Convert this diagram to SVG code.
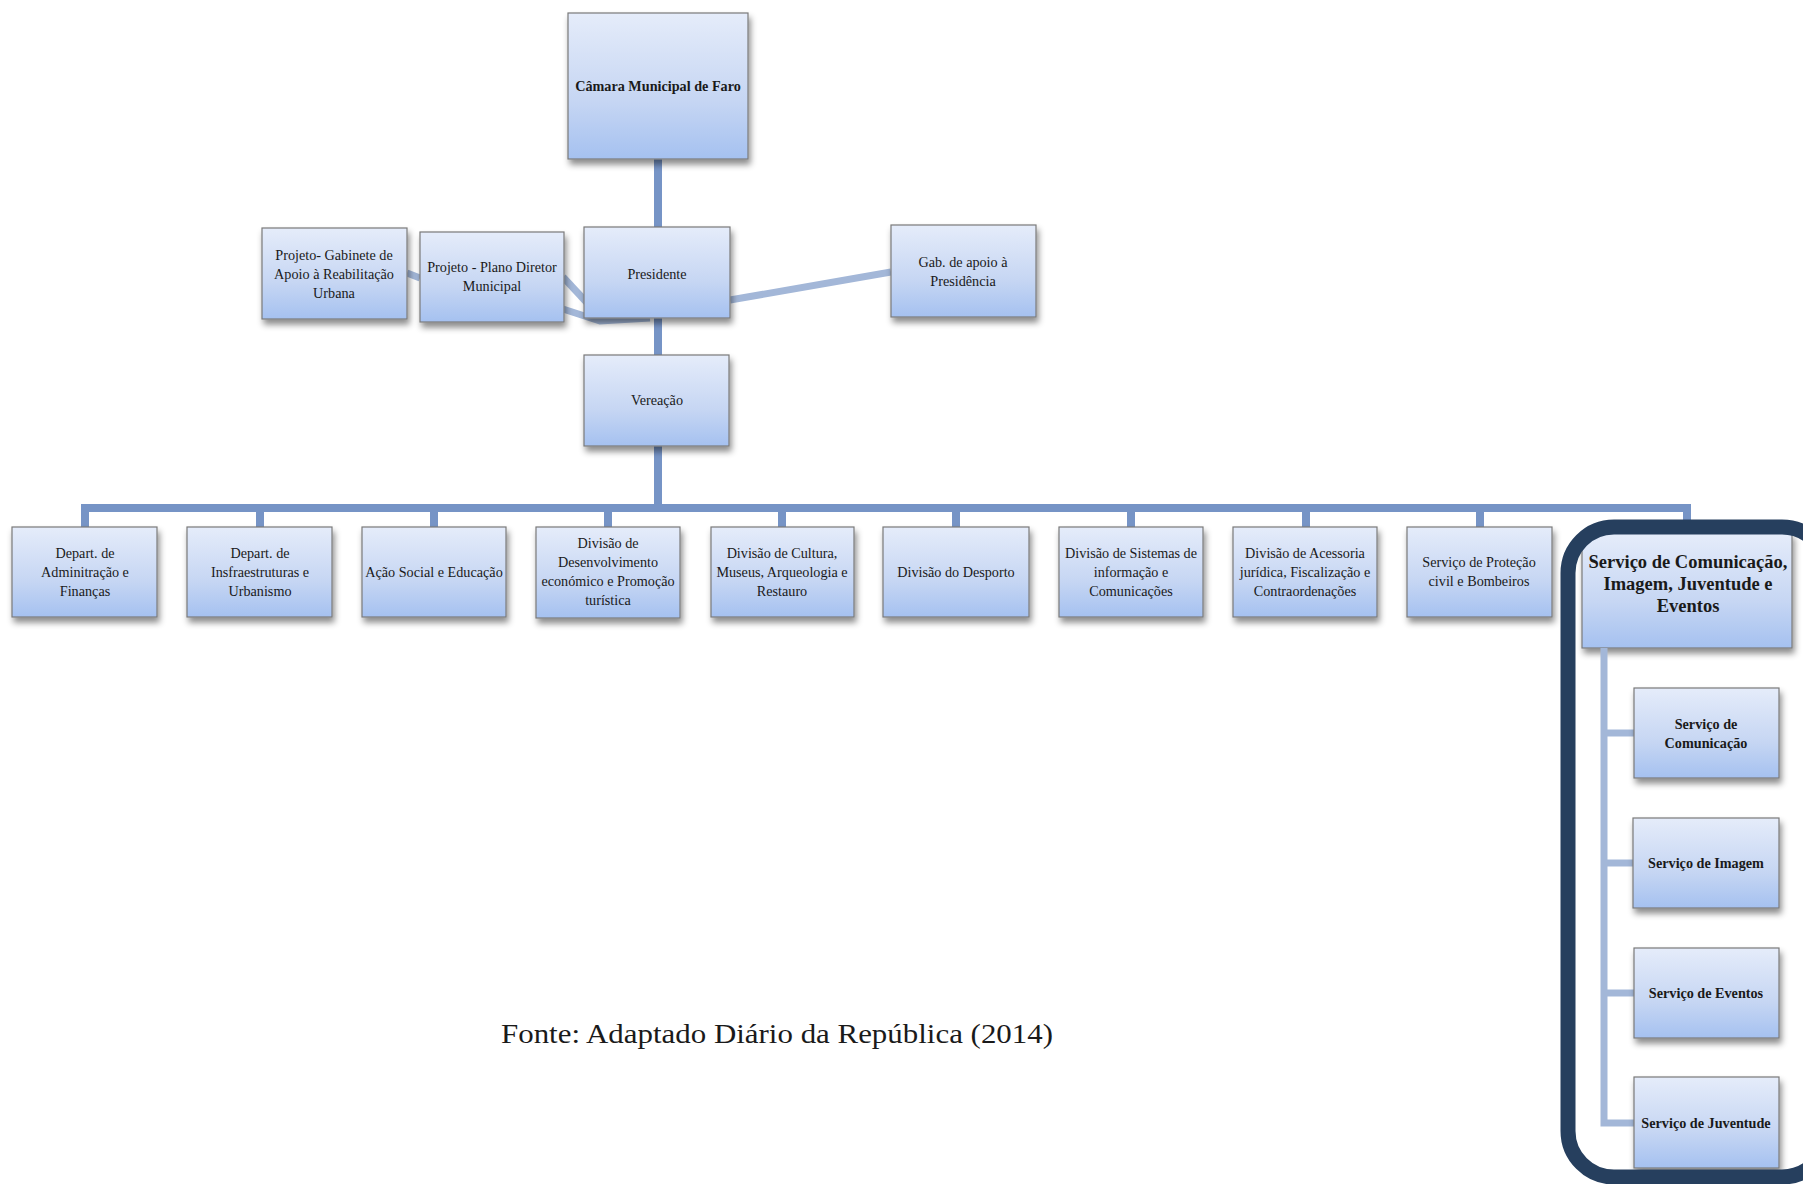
<svg xmlns="http://www.w3.org/2000/svg" width="1803" height="1184" viewBox="0 0 1803 1184">
<defs>
<linearGradient id="g" x1="0" y1="0" x2="0" y2="1">
<stop offset="0" stop-color="#E5ECFA"/>
<stop offset="0.6" stop-color="#C6D6F3"/>
<stop offset="1" stop-color="#A5C1F0"/>
</linearGradient>
<filter id="sh" x="-10%" y="-10%" width="125%" height="135%">
<feDropShadow dx="2" dy="5" stdDeviation="3" flood-color="#000" flood-opacity="0.45"/>
</filter>
<style>
.box{fill:url(#g);stroke:#7A7A7A;stroke-width:1.2;filter:url(#sh)}
.t{font-family:"Liberation Serif","DejaVu Serif",serif;font-size:14.2px;fill:#1A1A1A;text-anchor:middle}
.b{font-weight:bold}
.h{font-size:18.5px}
.c{stroke:#7694C6;stroke-width:8;fill:none}
.l{stroke:#A3B7D8;stroke-width:7;fill:none}
</style>
</defs>
<rect width="1803" height="1184" fill="#fff"/>

<g id="connectors">
<line class="c" x1="658" y1="159" x2="658" y2="228"/>
<line class="c" x1="658" y1="317" x2="658" y2="356"/>
<line class="c" x1="658" y1="446" x2="658" y2="508"/>
<polyline class="c" points="85,527 85,508 1687,508 1687,522"/>
<line class="c" x1="260" y1="508" x2="260" y2="527"/>
<line class="c" x1="434" y1="508" x2="434" y2="527"/>
<line class="c" x1="608" y1="508" x2="608" y2="527"/>
<line class="c" x1="782" y1="508" x2="782" y2="527"/>
<line class="c" x1="956" y1="508" x2="956" y2="527"/>
<line class="c" x1="1131" y1="508" x2="1131" y2="527"/>
<line class="c" x1="1306" y1="508" x2="1306" y2="527"/>
<line class="c" x1="1480" y1="508" x2="1480" y2="527"/>
<line class="l" x1="730" y1="300" x2="891" y2="272"/>
<line class="l" x1="407" y1="273" x2="420" y2="278"/>
<line class="l" x1="563" y1="277" x2="590" y2="306"/>
<polyline class="l" points="563,309 600,321 650,318"/>
</g>

<g id="camara"><rect class="box" x="568" y="13" width="180" height="146"/><text class="t b" x="658" y="91">Câmara Municipal de Faro</text></g>
<g id="gabinete-reabilitacao"><rect class="box" x="262" y="228" width="145" height="91"/><text class="t" x="334" y="260">Projeto- Gabinete de</text><text class="t" x="334" y="279">Apoio à Reabilitação</text><text class="t" x="334" y="298">Urbana</text></g>
<g id="plano-diretor"><rect class="box" x="420" y="232" width="144" height="90"/><text class="t" x="492" y="272">Projeto - Plano Diretor</text><text class="t" x="492" y="291">Municipal</text></g>
<g id="presidente"><rect class="box" x="584" y="227" width="146" height="91"/><text class="t" x="657" y="279">Presidente</text></g>
<g id="gab-apoio"><rect class="box" x="891" y="225" width="145" height="92"/><text class="t" x="963" y="267">Gab. de apoio à</text><text class="t" x="963" y="286">Presidência</text></g>
<g id="vereacao"><rect class="box" x="584" y="355" width="145" height="91"/><text class="t" x="657" y="405">Vereação</text></g>

<g id="dep-admin"><rect class="box" x="12" y="527" width="145" height="90"/><text class="t" x="85" y="558">Depart. de</text><text class="t" x="85" y="577">Adminitração e</text><text class="t" x="85" y="596">Finanças</text></g>
<g id="dep-infra"><rect class="box" x="187" y="527" width="145" height="90"/><text class="t" x="260" y="558">Depart. de</text><text class="t" x="260" y="577">Insfraestruturas e</text><text class="t" x="260" y="596">Urbanismo</text></g>
<g id="acao-social"><rect class="box" x="362" y="527" width="144" height="90"/><text class="t" x="434" y="577">Ação Social e Educação</text></g>
<g id="div-desenvolvimento"><rect class="box" x="536" y="527" width="144" height="91"/><text class="t" x="608" y="548">Divisão de</text><text class="t" x="608" y="567">Desenvolvimento</text><text class="t" x="608" y="586">económico e Promoção</text><text class="t" x="608" y="605">turística</text></g>
<g id="div-cultura"><rect class="box" x="711" y="527" width="143" height="90"/><text class="t" x="782" y="558">Divisão de Cultura,</text><text class="t" x="782" y="577">Museus, Arqueologia e</text><text class="t" x="782" y="596">Restauro</text></g>
<g id="div-desporto"><rect class="box" x="883" y="527" width="146" height="90"/><text class="t" x="956" y="577">Divisão do Desporto</text></g>
<g id="div-sistemas"><rect class="box" x="1059" y="527" width="144" height="90"/><text class="t" x="1131" y="558">Divisão de Sistemas de</text><text class="t" x="1131" y="577">informação e</text><text class="t" x="1131" y="596">Comunicações</text></g>
<g id="div-acessoria"><rect class="box" x="1233" y="527" width="144" height="90"/><text class="t" x="1305" y="558">Divisão de Acessoria</text><text class="t" x="1305" y="577">jurídica, Fiscalização e</text><text class="t" x="1305" y="596">Contraordenações</text></g>
<g id="serv-protecao"><rect class="box" x="1407" y="527" width="145" height="90"/><text class="t" x="1479" y="567">Serviço de Proteção</text><text class="t" x="1479" y="586">civil e Bombeiros</text></g>

<g id="servico-comunicacao-grupo">
<rect x="1568" y="527" width="260" height="650" rx="46" fill="#fff"/>
<g id="servico-comunicacao-header"><rect class="box" x="1582" y="533" width="210" height="115"/><text class="t b h" x="1688" y="568">Serviço de Comunicação,</text><text class="t b h" x="1688" y="590">Imagem, Juventude e</text><text class="t b h" x="1688" y="612">Eventos</text></g>
<g id="sub-connectors">
<polyline class="l" points="1604,648 1604,1123 1634,1123"/>
<line class="l" x1="1604" y1="733" x2="1634" y2="733"/>
<line class="l" x1="1604" y1="863" x2="1634" y2="863"/>
<line class="l" x1="1604" y1="993" x2="1634" y2="993"/>
</g>
<g id="serv-com"><rect class="box" x="1634" y="688" width="145" height="90"/><text class="t b" x="1706" y="729">Serviço de</text><text class="t b" x="1706" y="748">Comunicação</text></g>
<g id="serv-img"><rect class="box" x="1633" y="818" width="146" height="90"/><text class="t b" x="1706" y="868">Serviço de Imagem</text></g>
<g id="serv-evt"><rect class="box" x="1634" y="948" width="145" height="90"/><text class="t b" x="1706" y="998">Serviço de Eventos</text></g>
<g id="serv-juv"><rect class="box" x="1634" y="1077" width="145" height="91"/><text class="t b" x="1706" y="1128">Serviço de Juventude</text></g>
<rect x="1568" y="527" width="260" height="650" rx="46" fill="none" stroke="#263F5E" stroke-width="15"/>
</g>

<text x="501" y="1043" style="font-family:'Liberation Serif','DejaVu Serif',serif;font-size:28px;fill:#1a1a1a" textLength="552" lengthAdjust="spacingAndGlyphs">Fonte: Adaptado Diário da República (2014)</text>
</svg>
